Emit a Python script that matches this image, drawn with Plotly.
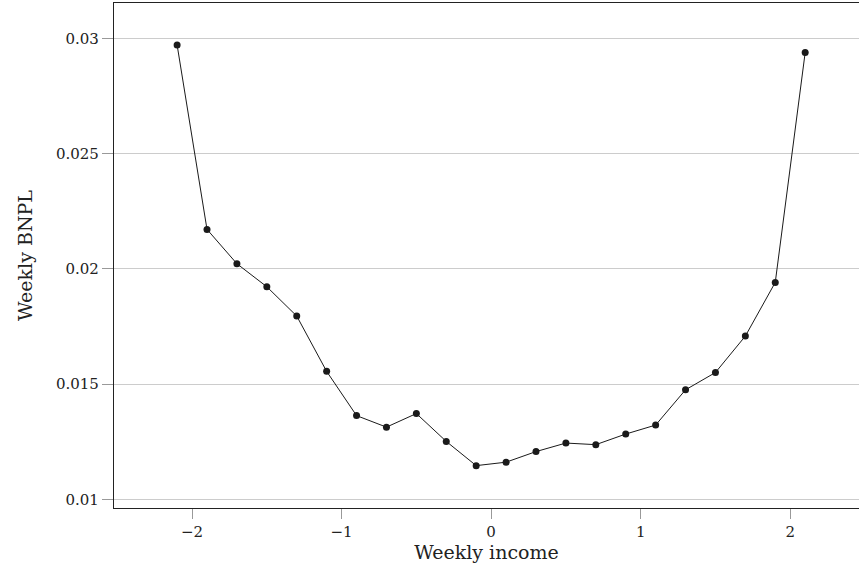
import plotly.graph_objects as go

income = [-2.1, -1.9, -1.7, -1.5, -1.3, -1.1, -0.9, -0.7, -0.5, -0.3, -0.1,
          0.1, 0.3, 0.5, 0.7, 0.9, 1.1, 1.3, 1.5, 1.7, 1.9, 2.1]
bnpl = [0.02971, 0.02171, 0.02022, 0.01922, 0.01795, 0.01555, 0.01363, 0.01313,
        0.01372, 0.01251, 0.01146, 0.01161, 0.01207, 0.01244, 0.01237, 0.01283,
        0.01322, 0.01475, 0.01550, 0.01708, 0.01941, 0.02938]

y_tickvals = [0.01, 0.015, 0.02, 0.025, 0.03]
y_ticktext = ["0.01", "0.015", "0.02", "0.025", "0.03"]
x_tickvals = [-2, -1, 0, 1, 2]
x_ticktext = ["\u22122", "\u22121", "0", "1", "2"]

FONT = "DejaVu Serif"

fig = go.Figure()
fig.add_trace(go.Scatter(
    x=income, y=bnpl, mode="lines+markers",
    line=dict(color="#1a1a1a", width=1),
    marker=dict(color="#1a1a1a", size=7),
    showlegend=False,
))

fig.update_layout(
    width=859, height=571,
    margin=dict(l=114, r=0, t=3, b=63, autoexpand=False),
    paper_bgcolor="white", plot_bgcolor="white",
    font=dict(family=FONT, color="#222222", size=15),
)
fig.update_xaxes(
    range=[-2.522, 2.46],
    tickvals=x_tickvals, ticktext=x_ticktext,
    ticks="outside", ticklen=10, tickcolor="#999999", tickwidth=1,
    showgrid=False, zeroline=False,
    showline=True, linecolor="#222222", linewidth=1.3, mirror=True,
    tickfont=dict(family=FONT, size=15),
    title=dict(text="Weekly income", font=dict(family=FONT, size=19), standoff=1),
)
fig.update_yaxes(
    range=[0.009622, 0.031532],
    tickvals=y_tickvals, ticktext=y_ticktext,
    ticks="outside", ticklen=11, tickcolor="#999999", tickwidth=1,
    showgrid=True, gridcolor="#cccccc", gridwidth=1, zeroline=False,
    showline=True, linecolor="#222222", linewidth=1.3, mirror=False,
    tickfont=dict(family=FONT, size=15),
    title=dict(text="Weekly BNPL", font=dict(family=FONT, size=19), standoff=18),
)

fig.write_html(
    "out.html",
    config={"responsive": False, "displayModeBar": False},
    post_script="document.body.style.margin='0';document.body.style.padding='0';"
                "document.documentElement.style.overflow='hidden';",
)
